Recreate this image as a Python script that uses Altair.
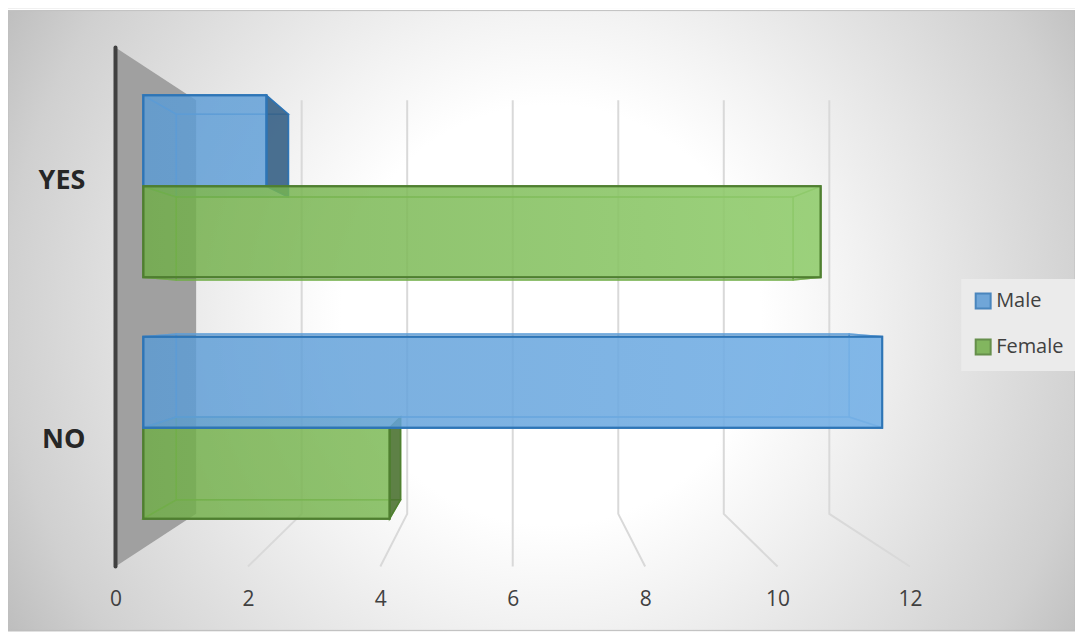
import altair as alt
import pandas as pd

categories = ["YES", "NO"]
male = [2, 12]
female = [11, 4]
ticks = [0, 2, 4, 6, 8, 10, 12]
series_names = ["Male", "Female"]
fills = {"Male": "#5b9bd5", "Female": "#70ad47"}
strokes = {"Male": "#2e75b6", "Female": "#4f7f30"}
darks = {"Male": "#305a80", "Female": "#466d2c"}
tints = {"Male": "140,195,245", "Female": "178,235,148"}

# 3D frame: value axis + category band units, depth factor s (1 = front plane)
VC, UC = 6.0, 1.0
S_WALL, S_FRONT, S_BACK = 0.797, 0.93, 0.847
W, H = 1069, 624
X0, Y0 = 115.7, 567  # where value 0 and the floor sit on the page
UX, UY = 66.33, 260


def ux(page_x):
    return (page_x - X0) / UX


def uy(page_y):
    return (Y0 - page_y) / UY


X_SCALE = alt.Scale(domain=[ux(8), ux(1077)], range=[0, W], nice=False, zero=False)
Y_SCALE = alt.Scale(domain=[uy(632), uy(8)], range=[H, 0], nice=False, zero=False)
X_AXIS = alt.Axis(values=ticks, domain=False, ticks=False, grid=False, labelFont="Open Sans",
                  labelFontSize=21, labelColor="#404040", labelPadding=0, offset=-43, zindex=1)
Y_AXIS = alt.Axis(values=[0.5, 1.5], labelExpr="datum.value > 1 ? 'YES' : 'NO'", domain=False, ticks=False,
                  grid=False, labelFont="Open Sans", labelFontWeight="bold", labelFontSize=27,
                  labelColor="#262626", labelPadding=0, offset=-77, labelOffset=3, zindex=1)


def px(v, s):
    return VC + (v - VC) * s


def py(u, s):
    return UC + (u - UC) * s


def X():
    return alt.X("x:Q", scale=X_SCALE, axis=X_AXIS, title=None)


def Y():
    return alt.Y("y:Q", scale=Y_SCALE, axis=Y_AXIS, title=None)


X2 = alt.X2("x2:Q")
Y2 = alt.Y2("y2:Q")


def vpoly(rows, **mark):
    return alt.Chart(pd.DataFrame(rows)).mark_area(orient="vertical", **mark).encode(x=X(), y=Y(), y2=Y2)


def hpoly(rows, **mark):
    return alt.Chart(pd.DataFrame(rows)).mark_area(orient="horizontal", **mark).encode(y=Y(), x=X(), x2=X2)


def box(rows, **mark):
    return alt.Chart(pd.DataFrame(rows)).mark_rect(**mark).encode(x=X(), x2=X2, y=Y(), y2=Y2)


layers = []

# background: an oversized square so the gradient stays circular, clipped to the frame
C_X, C_Y, R = ux(552), uy(315), 700
layers.append(box(
    [{"x": C_X - R / UX, "x2": C_X + R / UX, "y": C_Y + R / UY, "y2": C_Y - R / UY}],
    clip=True,
    color=alt.RadialGradient(
        gradient="radial", x1=0.5, y1=0.5, x2=0.5, y2=0.5, r1=0, r2=0.5,
        stops=[alt.GradientStop(offset=0, color="#ffffff"),
               alt.GradientStop(offset=0.3, color="#ffffff"),
               alt.GradientStop(offset=0.43, color="#f3f3f3"),
               alt.GradientStop(offset=0.78, color="#d0d0d0"),
               alt.GradientStop(offset=0.89, color="#bfbfbf"),
               alt.GradientStop(offset=1, color="#b0b0b0")])))
# white strip above the frame and the frame line
FRAME = {"x": ux(8), "x2": ux(1077)}
layers.append(box([{**FRAME, "y": uy(8), "y2": uy(10)}], color="white"))
layers.append(box([{**FRAME, "y": uy(10), "y2": uy(631)}],
                  fillOpacity=0, fill="white", stroke="#bfbfbf", strokeWidth=1))

# wall
layers.append(vpoly([{"x": 0, "y": 2, "y2": 0}, {"x": px(0, S_WALL), "y": py(2, S_WALL), "y2": py(0, S_WALL)}],
                    color="#a0a0a0"))

# gridlines: wall part and floor part
for t in ticks[1:]:
    rows = [{"x": px(t, S_WALL), "y": py(2, S_WALL)},
            {"x": px(t, S_WALL), "y": py(0, S_WALL)},
            {"x": t, "y": 0}]
    df = pd.DataFrame(rows).reset_index()
    layers.append(alt.Chart(df).mark_line(color="#d9d9d9", strokeWidth=2).encode(
        x=X(), y=Y(), order="index:Q"))

# axis wall line
layers.append(alt.Chart(pd.DataFrame([{"x": 0, "y": 2, "y2": 0}])).mark_rule(
    color="#404040", strokeWidth=4, strokeCap="round").encode(x=X(), y=Y(), y2=Y2))

# bars, drawn outside-in the way the reference stacks them
THICK = 0.377
bars = [("Male", 1.5, male[0], 0, 1), ("Female", 1.5, female[0], -1, 0),
        ("Female", 0.5, female[1], -1, 0), ("Male", 0.5, male[1], 0, 1)]
legend = alt.Legend(title=None, orient="none", legendX=955, legendY=271, fillColor="#ebebeb",
                    symbolType="square", symbolSize=225, symbolStrokeWidth=2, symbolOpacity=0.85,
                    labelFont="Open Sans", labelFontSize=20, labelColor="#404040", labelOffset=3,
                    rowPadding=22, padding=12, offset=0)
color_scale = alt.Scale(domain=series_names, range=[fills[n] for n in series_names])
stroke_scale = alt.Scale(domain=series_names, range=[strokes[n] for n in series_names])

for name, center, val, lo, hi in bars:
    u0, u1 = center + lo * THICK, center + hi * THICK
    f, st, dk = fills[name], strokes[name], darks[name]
    xf0, xf1, xb0, xb1 = px(0, S_FRONT), px(val, S_FRONT), px(0, S_BACK), px(val, S_BACK)
    yf0, yf1, yb0, yb1 = py(u0, S_FRONT), py(u1, S_FRONT), py(u0, S_BACK), py(u1, S_BACK)
    soft = dict(fill=f, stroke=f, strokeWidth=1.5, fillOpacity=0.18, strokeOpacity=0.7)
    # back
    layers.append(vpoly([{"x": xb0, "y": yb1, "y2": yb0}, {"x": xb1, "y": yb1, "y2": yb0}], **soft))
    # bottom, top
    layers.append(hpoly([{"y": yf0, "x": xf0, "x2": xf1}, {"y": yb0, "x": xb0, "x2": xb1}], **soft))
    layers.append(hpoly([{"y": yf1, "x": xf0, "x2": xf1}, {"y": yb1, "x": xb0, "x2": xb1}], **soft))
    # left
    layers.append(vpoly([{"x": xf0, "y": yf1, "y2": yf0}, {"x": xb0, "y": yb1, "y2": yb0}], **soft))
    # right: seen from outside when the bar ends left of the vanishing point
    if val < VC:
        layers.append(vpoly([{"x": xf1, "y": yf1, "y2": yf0}, {"x": xb1, "y": yb1, "y2": yb0}],
                            fill=dk, stroke=st, strokeWidth=1.5, fillOpacity=0.85))
    else:
        layers.append(vpoly([{"x": xf1, "y": yf1, "y2": yf0}, {"x": xb1, "y": yb1, "y2": yb0}], **soft))
    # front
    front = pd.DataFrame([{"x": xf0, "y": yf1, "y2": yf0, "series": name},
                          {"x": xf1, "y": yf1, "y2": yf0, "series": name}])
    layers.append(alt.Chart(front).mark_area(orient="vertical", fillOpacity=0.78, strokeWidth=2).encode(
        x=X(), y=Y(), y2=Y2,
        color=alt.Color("series:N", scale=color_scale, legend=legend),
        stroke=alt.Stroke("series:N", scale=stroke_scale, legend=legend)))
    # tinted highlight that grows towards the bar's end, with the outline redrawn above it
    tint_alpha = 0.5 * val / 12
    tint = alt.LinearGradient(
        gradient="linear", x1=0, y1=0, x2=1, y2=0,
        stops=[alt.GradientStop(offset=0, color=f"rgba({tints[name]},0)"),
               alt.GradientStop(offset=1, color=f"rgba({tints[name]},{tint_alpha:.2f})")])
    rect = [{"x": xf0, "y": yf1, "y2": yf0}, {"x": xf1, "y": yf1, "y2": yf0}]
    layers.append(vpoly(rect, color=tint))
    layers.append(vpoly(rect, fillOpacity=0, fill="white", stroke=st, strokeWidth=2))

chart = alt.layer(*layers).properties(
    width=W, height=H, padding=0, background="white",
    autosize=alt.AutoSizeParams(type="none")
).configure_view(stroke=None)

chart.save("out.html", embed_options={"renderer": "svg", "actions": False})
